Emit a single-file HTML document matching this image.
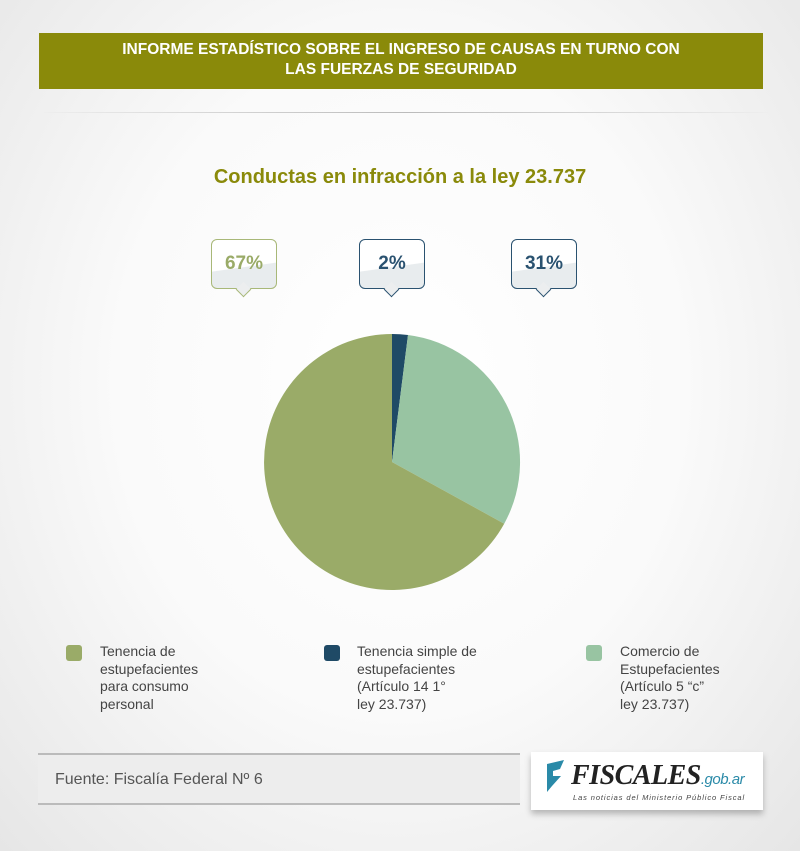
<!DOCTYPE html>
<html><head><meta charset="utf-8"><style>
body{margin:0;width:800px;height:851px;overflow:hidden;font-family:"Liberation Sans","DejaVu Sans",sans-serif;background:radial-gradient(ellipse at 50% 45%,#ffffff 0%,#fafafa 50%,#e6e6e6 100%);position:relative}
.hdr{position:absolute;left:39px;top:33px;width:724px;height:56px;background:#8a8a0a;color:#fff;font-weight:bold;font-size:15.5px;text-align:center;line-height:20px;padding-top:7px;box-sizing:border-box}
.rule{position:absolute;left:44px;top:112px;width:724px;height:1px;background:linear-gradient(90deg,#eee,#bbb 50%,#eee)}
.title{position:absolute;left:0;width:800px;top:166px;text-align:center;color:#8a8a0a;font-weight:bold;font-size:20px}
.bub{position:absolute;top:239px;width:66px;height:50px;border-radius:6px;background:linear-gradient(172deg,#fff 55%,#e8ecee 56%);box-sizing:border-box;border:1.5px solid;text-align:center;font-weight:bold;font-size:19px;line-height:48px}
.bub:after{content:"";position:absolute;left:26px;bottom:-7px;width:10px;height:10px;background:#eceeef;border-right:1.5px solid;border-bottom:1.5px solid;border-color:inherit;transform:rotate(45deg)}
.leg{position:absolute;top:643px;font-size:14px;color:#444;line-height:17.5px}
.sw{position:absolute;top:645px;width:16px;height:16px;border-radius:3px}
.src{position:absolute;left:38px;top:753px;width:482px;height:52px;border-top:2px solid #bbb;border-bottom:2px solid #bbb;background:#ededed;font-size:16px;color:#555;line-height:50px;padding-left:17px;box-sizing:border-box}
.logo{position:absolute;left:531px;top:752px;width:232px;height:58px;background:#fff;box-shadow:0 4px 6px rgba(0,0,0,.25)}
</style></head><body>
<div class="hdr">INFORME ESTADÍSTICO SOBRE EL INGRESO DE CAUSAS EN TURNO CON<br>LAS FUERZAS DE SEGURIDAD</div>
<div class="rule"></div>
<div class="title">Conductas en infracción a la ley 23.737</div>
<div class="bub" style="left:211px;border-color:#a8b878;color:#9aab68">67%</div>
<div class="bub" style="left:359px;border-color:#2a5270;color:#2a5270">2%</div>
<div class="bub" style="left:511px;border-color:#2a5270;color:#2a5270">31%</div>
<svg style="position:absolute;left:0;top:0" width="800" height="851">
<path d="M392,462 L392,334 A128,128 0 0 1 408,335 Z" fill="#1f4a66"/>
<path d="M392,462 L408,335 A128,128 0 0 1 504.2,523.7 Z" fill="#98c4a2"/>
<path d="M392,462 L504.2,523.7 A128,128 0 1 1 392,334 Z" fill="#9aab68"/>
</svg>
<div class="sw" style="left:66px;background:#9aab68"></div>
<div class="leg" style="left:100px">Tenencia de<br>estupefacientes<br>para consumo<br>personal</div>
<div class="sw" style="left:324px;background:#1f4a66"></div>
<div class="leg" style="left:357px">Tenencia simple de<br>estupefacientes<br>(Artículo 14 1°<br>ley 23.737)</div>
<div class="sw" style="left:586px;background:#98c4a2"></div>
<div class="leg" style="left:620px">Comercio de<br>Estupefacientes<br>(Artículo 5 “c”<br>ley 23.737)</div>
<div class="src">Fuente: Fiscalía Federal Nº 6</div>
<div class="logo">
<svg width="232" height="58" style="position:absolute;left:0;top:0"><polygon points="16,12 33,8 29,17 22,19 22,24 30,24 21,34 16,40" fill="#2a8aa8"/></svg>
<div style="position:absolute;left:40px;top:8px;font-family:'Liberation Serif',serif;font-style:italic;font-weight:bold;font-size:28px;color:#222;letter-spacing:-0.5px;white-space:nowrap">FISCALES<span style="font-family:'Liberation Sans',sans-serif;font-size:15px;color:#2a8aa8;font-weight:normal">.gob.ar</span></div>
<div style="position:absolute;left:42px;top:41px;font-size:7.5px;font-style:italic;color:#444;letter-spacing:0.9px;white-space:nowrap">Las noticias del Ministerio Público Fiscal</div>
</div>
</body></html>
